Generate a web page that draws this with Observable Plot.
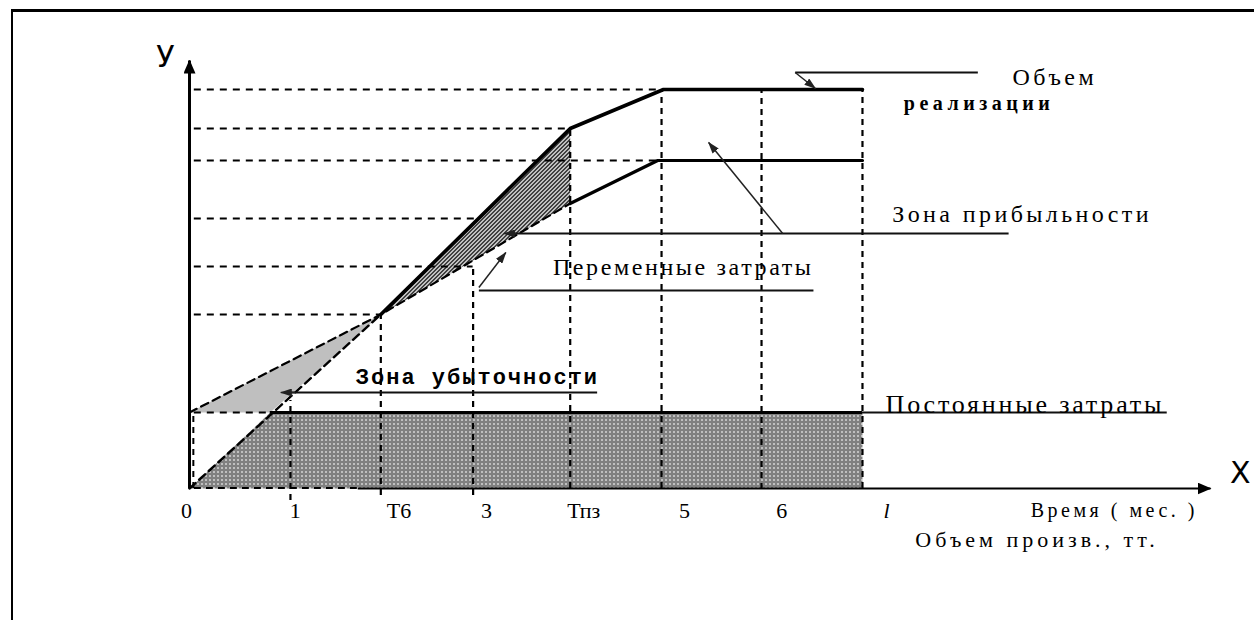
<!DOCTYPE html>
<html><head><meta charset="utf-8">
<script src="https://cdn.jsdelivr.net/npm/d3@7"></script>
<script src="https://cdn.jsdelivr.net/npm/@observablehq/plot@0.6"></script>
<style>
html,body{margin:0;padding:0;background:#fff;width:1254px;height:620px;overflow:hidden}
#wrap{position:relative;width:1254px;height:620px}
#chart{position:absolute;left:0;top:0}
#frame{position:absolute;left:11px;top:9px;right:-5px;bottom:-5px;border-top:3px solid #000;border-left:2px solid #000;pointer-events:none}
</style></head>
<body><div id="wrap"><div id="chart"></div><div id="frame"></div></div>
<script>
// ---- data (x: months, y: arbitrary money units) ----
const tickLabels  = ["0", "1", "T6", "3", "Тпз", "5", "6", "l"];
const tickX       = [0, 1.05, 1.99, 2.95, 3.96, 4.91, 5.95, 7.0];
const tickLabelX  = [-0.03, 1.10, 2.18, 3.09, 4.10, 5.15, 6.16, 7.25];
const guideTop    = [0, 8.8, 17.4, 22.2, 36.0, 39.9, 39.9, 39.9];
const guideBottom = [0, -1.2, -0.7, -0.7, 0, 0, -0.1, 0];

const revenueX = [0, 1.99, 3.96, 4.93, 7.0];
const revenueY = [0, 17.4, 36.0, 39.9, 39.9];
const costX    = [0, 1.99, 3.96, 4.87, 7.0];
const costY    = [7.6, 17.4, 28.5, 32.8, 32.8];
const fixedCost   = 7.6;
const fixedStartX = 0.84;   // where sales line reaches the fixed-cost level
const fixedLabelEndX = 10.17;

const levelY    = [39.9, 36.0, 32.8, 27.0, 22.2, 17.4];
const levelXEnd = [4.93, 3.96, 4.87, 3.01, 2.95, 1.99];

const labels = {
  sales1: "Объем", sales2: "реализации", profit: "Зона прибыльности",
  variable: "Переменные затраты", loss: "Зона убыточности",
  fixed: "Постоянные затраты", xTitle1: "Время ( мес. )", xTitle2: "Объем произв., тт.",
  yAxis: "У", xAxis: "X"
};

// ---- derived tables ----
const revenue = revenueX.map((x, i) => ({x, y: revenueY[i]}));
const cost = costX.map((x, i) => ({x, y: costY[i]}));
const BE = 1, TPZ = 2;
const lossZone = [cost[0], {x: fixedStartX, y: fixedCost}, revenue[BE]];
const profitZone = [revenue[BE], revenue[TPZ], cost[TPZ]];
const fixedBand = [{x: 0, y: 0}, {x: fixedStartX, y: fixedCost}, {x: tickX[7], y: fixedCost}, {x: tickX[7], y: 0}];
const levels = levelY.map((y, i) => ({y, x2: levelXEnd[i]}));
const vGuides = tickX.slice(1).map((x, i) => ({x, y1: guideBottom[i + 1], y2: guideTop[i + 1]}));
const ticks = tickLabels.map((t, i) => ({t, x: tickLabelX[i]}));

const serif = "Liberation Serif";
const leaders = [
  {x1: 8.20, y1: 41.6, x2: 6.30, y2: 41.6},
  {x1: 8.52, y1: 25.5, x2: 3.35, y2: 25.5},
  {x1: 6.49, y1: 19.8, x2: 3.01, y2: 19.8},
  {x1: 4.24, y1: 9.6, x2: 1.02, y2: 9.6}
];
const arrows = [
  {x1: 6.30, y1: 41.6, x2: 6.51, y2: 40.0},
  {x1: 3.40, y1: 25.5, x2: 3.27, y2: 25.5},
  {x1: 6.17, y1: 25.5, x2: 5.40, y2: 34.6},
  {x1: 3.01, y1: 20.1, x2: 3.29, y2: 23.6},
  {x1: 1.10, y1: 9.6, x2: 0.95, y2: 9.6}
];

const plot = Plot.plot({
  width: 1254, height: 620,
  marginLeft: 189, marginRight: 44, marginTop: 60, marginBottom: 132,
  x: {domain: [0, 10.62], axis: null},
  y: {domain: [0, 42.8], axis: null},
  style: {background: "transparent", overflow: "visible"},
  marks: [
    // shaded zones
    Plot.line(fixedBand, {x: "x", y: "y", fill: "url(#patFixed)", stroke: "none"}),
    Plot.line(lossZone, {x: "x", y: "y", fill: "url(#patLoss)", stroke: "none"}),
    Plot.line(profitZone, {x: "x", y: "y", fill: "url(#patProfit)", stroke: "none"}),
    // dashed guides
    Plot.ruleY(levels, {y: "y", x1: 0.05, x2: "x2", stroke: "#000", strokeWidth: 2.2, strokeDasharray: "7,6"}),
    Plot.ruleY([fixedCost], {x1: 0.05, x2: fixedStartX, stroke: "#000", strokeWidth: 2.2, strokeDasharray: "7,6"}),
    Plot.ruleX(vGuides, {x: "x", y1: "y1", y2: "y2", stroke: "#000", strokeWidth: 2.2, strokeDasharray: "6,5"}),
    Plot.ruleX([0.04], {y1: 0, y2: fixedCost, stroke: "#000", strokeWidth: 2, strokeDasharray: "6,5"}),
    Plot.ruleY([0.05], {x1: 0.05, x2: 1.75, stroke: "#000", strokeWidth: 2, strokeDasharray: "7,5"}),
    // sales & cost lines
    Plot.line(revenue.slice(0, BE + 1), {x: "x", y: "y", stroke: "#000", strokeWidth: 2.4, strokeDasharray: "8,5"}),
    Plot.line(revenue.slice(BE), {x: "x", y: "y", stroke: "#000", strokeWidth: 3.6}),
    Plot.line(cost.slice(0, TPZ + 1), {x: "x", y: "y", stroke: "#000", strokeWidth: 2.2, strokeDasharray: "8,5"}),
    Plot.line(cost.slice(TPZ), {x: "x", y: "y", stroke: "#000", strokeWidth: 3.2}),
    Plot.ruleY([fixedCost], {x1: fixedStartX, x2: tickX[7], stroke: "#000", strokeWidth: 3}),
    Plot.ruleY([fixedCost], {x1: tickX[7], x2: fixedLabelEndX, stroke: "#111", strokeWidth: 2}),
    // axes
    Plot.link([{x1: 0, y1: 0, x2: 0, y2: 42.8}], {x1: "x1", y1: "y1", x2: "x2", y2: "y2", stroke: "black", strokeWidth: 3, markerEnd: "arrow"}),
    Plot.link([{x1: 1.75, y1: 0, x2: 10.62, y2: 0}], {x1: "x1", y1: "y1", x2: "x2", y2: "y2", stroke: "black", strokeWidth: 2.2, markerEnd: "arrow"}),
    // leader lines
    Plot.link(leaders, {x1: "x1", y1: "y1", x2: "x2", y2: "y2", stroke: "#111", strokeWidth: 1.8}),
    Plot.link(arrows, {x1: "x1", y1: "y1", x2: "x2", y2: "y2", stroke: "#222", strokeWidth: 1.5, markerEnd: "arrow"}),
    // tick labels
    Plot.text(ticks.filter(d => d.t !== "l"), {x: "x", y: -2.2, text: "t", fontSize: 22, fontFamily: serif}),
    Plot.text(ticks.filter(d => d.t === "l"), {x: "x", y: -2.2, text: "t", fontSize: 22, fontFamily: serif, fontStyle: "italic"}),
    // annotations
    Plot.text([labels.sales1], {x: 8.56, y: 41.15, text: d => d, textAnchor: "start", fontSize: 24, fontFamily: serif}),
    Plot.text([labels.sales2], {x: 7.43, y: 38.5, text: d => d, textAnchor: "start", fontSize: 20, fontWeight: "bold", fontFamily: serif}),
    Plot.text([labels.profit], {x: 7.31, y: 27.45, text: d => d, textAnchor: "start", fontSize: 24, fontFamily: serif}),
    Plot.text([labels.variable], {x: 3.78, y: 22.15, text: d => d, textAnchor: "start", fontSize: 24, fontFamily: serif}),
    Plot.text([labels.loss], {x: 1.73, y: 11.2, text: d => d, textAnchor: "start", fontSize: 22, fontWeight: "bold", fontFamily: "Liberation Mono"}),
    Plot.text([labels.fixed], {x: 7.24, y: 8.4, text: d => d, textAnchor: "start", fontSize: 26, fontFamily: serif}),
    Plot.text([labels.xTitle1], {x: 8.75, y: -2.25, text: d => d, textAnchor: "start", fontSize: 20, fontFamily: serif}),
    Plot.text([labels.xTitle2], {x: 7.55, y: -5.15, text: d => d, textAnchor: "start", fontSize: 22, fontFamily: serif}),
    Plot.text([labels.yAxis], {x: -0.25, y: 43.15, text: d => d, fontSize: 30, fontFamily: "DejaVu Sans"}),
    Plot.text([labels.xAxis], {x: 10.93, y: 1.55, text: d => d, fontSize: 30, fontFamily: "DejaVu Sans"})
  ]
});

// patterns
const defs = d3.create("svg:defs");
function pattern(id, size, cells) {
  const p = defs.append("pattern").attr("id", id).attr("width", size).attr("height", size)
    .attr("patternUnits", "userSpaceOnUse").attr("shape-rendering", "crispEdges");
  p.append("rect").attr("width", size).attr("height", size).attr("fill", "#fff");
  for (const [x, y] of cells) p.append("rect").attr("x", x).attr("y", y).attr("width", 1).attr("height", 1).attr("fill", "#000");
}
pattern("patFixed", 4, [[0,0],[2,0],[1,1],[3,1],[0,2],[2,2],[3,3]]);
pattern("patProfit", 4, [[0,0],[3,0],[3,1],[2,1],[2,2],[1,2],[1,3],[0,3]]);
pattern("patLoss", 4, [[0,0],[2,0],[1,2],[3,2]]);
plot.insertBefore(defs.node(), plot.firstChild);

// filled arrowheads
plot.querySelectorAll("marker").forEach(m => {
  const c = m.getAttribute("stroke");
  const big = c === "black";
  const L = big ? 13 : 11, Wd = big ? 6 : 4;
  m.setAttribute("markerUnits", "userSpaceOnUse");
  m.setAttribute("viewBox", `${-L} ${-Wd} ${L + 1} ${2 * Wd}`);
  m.setAttribute("markerWidth", L + 1);
  m.setAttribute("markerHeight", 2 * Wd);
  m.setAttribute("fill", c);
  m.setAttribute("stroke", "none");
  const p = m.querySelector("path");
  if (p) p.setAttribute("d", `M${-L},${-Wd}L1,0L${-L},${Wd}Z`);
});

// letter spacing for the scanned-looking labels
const spacing = new Map([
  [labels.sales1, 3.5], [labels.sales2, 4.5], [labels.profit, 3.4], [labels.variable, 2.6],
  [labels.loss, 2], [labels.fixed, 2.8], [labels.xTitle1, 3.5], [labels.xTitle2, 4]
]);
plot.querySelectorAll("text").forEach(t => {
  const s = spacing.get(t.textContent);
  if (s != null) t.style.letterSpacing = s + "px";
});

document.getElementById("chart").appendChild(plot);
</script>
</body></html>
